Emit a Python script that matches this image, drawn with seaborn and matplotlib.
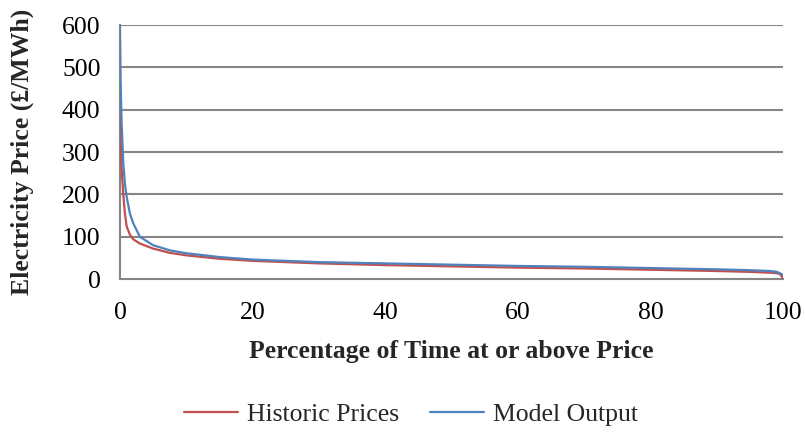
import numpy as np
import pandas as pd
import matplotlib
matplotlib.use("Agg")
import matplotlib.pyplot as plt
import seaborn as sns

# Price duration curves: share of time (%) at or above each price (GBP/MWh)
pct_time = [0, 0.1, 0.25, 0.5, 0.75, 1, 1.5, 2, 3, 5, 7.5, 10, 15, 20, 30, 40,
            50, 60, 70, 80, 90, 95, 98, 99, 99.5, 100]
historic_prices = [400, 330, 260, 200, 155, 125, 105, 94, 84, 72, 62, 56, 48, 43,
                   37, 33, 30, 27, 25, 22, 19, 17, 15, 14, 12, 1]
model_output = [600, 470, 370, 275, 225, 195, 155, 132, 100, 80, 68, 61, 52, 46,
                40, 37, 34, 31, 29, 26, 23, 21, 19, 17, 14, 9]
series_names = ["Historic Prices", "Model Output"]
x_ticks = [0, 20, 40, 60, 80, 100]
y_ticks = [0, 100, 200, 300, 400, 500, 600]

df = pd.concat([
    pd.DataFrame({"pct": pct_time, "price": historic_prices, "series": series_names[0]}),
    pd.DataFrame({"pct": pct_time, "price": model_output, "series": series_names[1]}),
])

sns.set_theme(style="white")
plt.rcParams["font.family"] = ["Liberation Serif", "DejaVu Serif"]

fs = 18.5
fig = plt.figure(figsize=(8.05, 4.34), dpi=100)
ax = fig.add_axes([0.149, 0.357, 0.824, 0.585])

grid_col = "#868686"
for y in y_ticks[1:]:
    ax.axhline(y, color=grid_col, lw=1.5, zorder=0)

sns.lineplot(data=df, x="pct", y="price", hue="series",
             palette=["#C0504D", "#4F81BD"], linewidth=1.6, ax=ax,
             legend=False, sort=False, zorder=3)

ax.set_xlim(0, 100)
ax.set_ylim(0, 600)
ax.set_xticks(x_ticks)
ax.set_yticks(y_ticks)
ax.tick_params(axis="both", length=0, labelsize=fs, colors="black")
ax.tick_params(axis="x", pad=16.5)
ax.tick_params(axis="y", pad=14)

for side in ["top", "right"]:
    ax.spines[side].set_visible(False)
for side in ["left", "bottom"]:
    ax.spines[side].set_color(grid_col)
    ax.spines[side].set_linewidth(1.5)

ax.set_xlabel("Percentage of Time at or above Price", fontsize=fs,
              fontweight="bold", labelpad=11.5)
ax.set_ylabel("Electricity Price (£/MWh)", fontsize=fs, fontweight="bold",
              labelpad=20)

handles = [plt.Line2D([], [], color=c, lw=1.6) for c in ["#C0504D", "#4F81BD"]]
fig.legend(handles, series_names, loc="center", bbox_to_anchor=(0.511, 0.044),
           ncol=2, frameon=False, fontsize=fs, handlelength=2.1,
           handletextpad=0.35, columnspacing=1.2)

fig.savefig("out.png", dpi=100, facecolor="white")
